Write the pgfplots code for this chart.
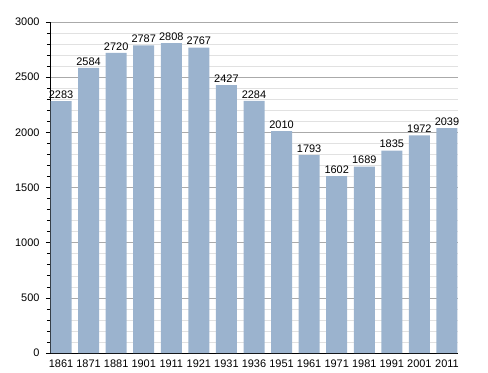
\documentclass[border=0pt]{standalone}
\usepackage{pgfplots}
\pgfplotsset{compat=1.18}
\usepackage{fontspec}
\setmainfont{Liberation Sans}
\definecolor{barblue}{RGB}{155,179,206}
\definecolor{majgrid}{RGB}{170,170,170}
\definecolor{mingrid}{RGB}{225,225,225}
\begin{document}
\begin{tikzpicture}
\path (-50bp,-20bp) rectangle (438bp,353bp);
\begin{axis}[
  at={(0,0)}, anchor=south west,
  scale only axis,
  width=408bp, height=331bp,
  xmin=-0.4, xmax=14.4,
  ymin=0, ymax=3000,
  axis x line*=bottom, axis y line*=left,
  axis line style={black, line width=0.8pt},
  xtick={0,...,14},
  xticklabels={1861,1871,1881,1901,1911,1921,1931,1936,1951,1961,1971,1981,1991,2001,2011},
  x tick style={draw=none},
  ytick={0,500,...,3000},
  minor ytick={100,200,...,2900},
  ymajorgrids, yminorgrids,
  major grid style={majgrid, line width=0.6pt},
  minor grid style={mingrid, line width=0.5pt},
  y tick style={black, line width=0.6pt},
  tick align=outside,
  major tick length=4bp, minor tick length=3bp,
  tick label style={font=\fontsize{11}{13}\selectfont},
  /pgf/number format/assume math mode=true,
  /pgf/number format/1000 sep={},
  yticklabel style={xshift=-3bp},
  xticklabel style={yshift=1bp},
  nodes near coords,
  nodes near coords style={font=\fontsize{11}{13}\selectfont, /pgf/number format/1000 sep={}, /pgf/number format/assume math mode=true, inner sep=2.5bp},
  clip=false,
]
\addplot[ybar, bar width=21bp, fill=barblue, draw=none] coordinates {
(0,2283) (1,2584) (2,2720) (3,2787) (4,2808) (5,2767) (6,2427) (7,2284)
(8,2010) (9,1793) (10,1602) (11,1689) (12,1835) (13,1972) (14,2039)
};
\end{axis}
\end{tikzpicture}
\end{document}
